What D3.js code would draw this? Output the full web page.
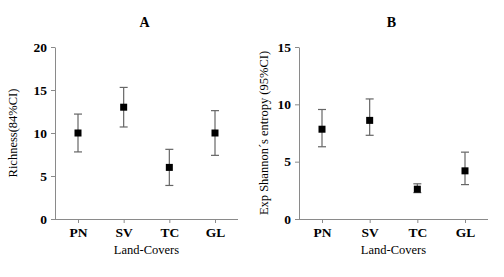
<!DOCTYPE html>
<html>
<head>
<meta charset="utf-8">
<script src="https://cdn.jsdelivr.net/npm/d3@7"></script>
<style>
  body { margin: 0; background: #fff; }
  svg { display: block; font-family: "Liberation Serif", "Times New Roman", serif; }
  .tick text { font-weight: bold; font-size: 13.5px; fill: #000; }
  .axis path, .axis line { stroke: #8a8a8a; }
</style>
</head>
<body>
<div id="chart"></div>
<script>
// Two error-bar panels: A richness, B exp Shannon entropy, by land cover

const categories = ["PN", "SV", "TC", "GL"];

const richMean  = [10, 13, 6, 10];
const richLow   = [7.8, 10.7, 3.9, 7.4];
const richHigh  = [12.2, 15.3, 8.1, 12.6];
const richTicks = [0, 5, 10, 15, 20];

const shanMean  = [7.83, 8.6, 2.6, 4.2];
const shanLow   = [6.3, 7.3, 2.3, 3.0];
const shanHigh  = [9.55, 10.47, 3.07, 5.83];
const shanTicks = [0, 5, 10, 15];

const W = 504, H = 277;
const svg = d3.select("#chart").append("svg").attr("width", W).attr("height", H);

function panel(opt) {
  const { left, right, top, bottom, max, ticks, mean, low, high, title, ylabel, ylabelX } = opt;
  const g = svg.append("g");

  const x = d3.scalePoint().domain(categories).range([left + 23, right - 23]);
  const y = d3.scaleLinear().domain([0, max]).range([bottom, top]);

  const gx = g.append("g").attr("class", "axis").attr("transform", `translate(0,${bottom})`)
    .call(d3.axisBottom(x).tickSize(4).tickSizeOuter(0))
    .attr("font-family", null).attr("font-size", null);
  gx.select(".domain").attr("d", `M${left},0.5H${right}`);
  gx.selectAll(".tick text").attr("dy", "0.78em");

  const gy = g.append("g").attr("class", "axis").attr("transform", `translate(${left},0)`)
    .call(d3.axisLeft(y).tickValues(ticks).tickSize(4).tickSizeOuter(0))
    .attr("font-family", null).attr("font-size", null);
  gy.selectAll(".tick text").attr("dx", "-1px");

  const rows = categories.map((c, i) => ({ c, m: mean[i], lo: low[i], hi: high[i] }));
  const bars = g.append("g").selectAll("g").data(rows).join("g")
    .attr("transform", d => `translate(${x(d.c)},0)`);
  bars.append("line").attr("y1", d => y(d.lo)).attr("y2", d => y(d.hi))
    .attr("stroke", "#666").attr("stroke-width", 1.2);
  bars.append("line").attr("x1", -4).attr("x2", 4).attr("y1", d => y(d.hi)).attr("y2", d => y(d.hi))
    .attr("stroke", "#666").attr("stroke-width", 1.2);
  bars.append("line").attr("x1", -4).attr("x2", 4).attr("y1", d => y(d.lo)).attr("y2", d => y(d.lo))
    .attr("stroke", "#666").attr("stroke-width", 1.2);
  bars.append("rect").attr("x", -3.5).attr("y", d => y(d.m) - 3.5).attr("width", 7).attr("height", 7)
    .attr("fill", "#000");

  g.append("text").attr("x", (left + right) / 2 - 2).attr("y", 27).attr("text-anchor", "middle")
    .attr("font-weight", "bold").attr("font-size", 14).text(title);
  g.append("text").attr("x", (left + right) / 2).attr("y", 254).attr("text-anchor", "middle")
    .attr("font-size", 12.5).text("Land-Covers");
  g.append("text").attr("transform", `translate(${ylabelX},${(top + bottom) / 2}) rotate(-90)`)
    .attr("text-anchor", "middle").attr("font-size", 12.5).text(ylabel);
}

panel({ left: 55, right: 238, top: 47, bottom: 219, max: 20, ticks: richTicks,
  mean: richMean, low: richLow, high: richHigh, title: "A", ylabel: "Richness(84%CI)", ylabelX: 17 });
panel({ left: 299, right: 488, top: 47, bottom: 219, max: 15, ticks: shanTicks,
  mean: shanMean, low: shanLow, high: shanHigh, title: "B", ylabel: "Exp Shannon\u00b4s entropy (95%CI)", ylabelX: 268 });
</script>
</body>
</html>
